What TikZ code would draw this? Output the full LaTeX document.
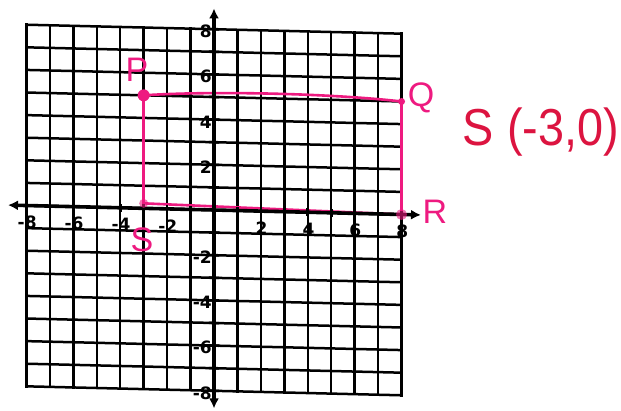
\documentclass[tikz,border=0pt]{standalone}
\usepackage{fontspec}
\setmainfont{DejaVu Sans}
\newfontfamily\handfont{Liberation Sans}
\usetikzlibrary{arrows.meta}
\definecolor{hotpink}{HTML}{EE1A80}
\definecolor{crimson}{HTML}{DC1440}
\begin{document}
\begin{tikzpicture}[x=1pt,y=1pt,
  gridline/.style={line width=2.5pt, black, line cap=rect},
  axisline/.style={line width=3.6pt, black, {Latex[length=10pt,width=10pt]}-{Latex[length=10pt,width=10pt]}},
  tickmark/.style={line width=2.6pt, black},
  numlab/.style={font=\bfseries\fontsize{17}{17}\selectfont, inner sep=0pt},
  pinkline/.style={line width=2.6pt, hotpink, line cap=round},
  pinklab/.style={text=hotpink, font=\handfont\fontsize{34}{34}\selectfont, inner sep=0pt},
  bigtext/.style={text=crimson, font=\handfont\fontsize{52}{52}\selectfont, inner sep=0pt}]
\path[use as bounding box, fill=white] (0,0) rectangle (621,-410);
\begin{scope}[shift={(214,-210)}, x={(23.44pt,-0.56pt)}, y={(0pt,22.6pt)}]
  % grid: vertical lines
  \foreach \gx in {-8,-7,-6,-5,-4,-3,-2,-1,0,1,2,3,4,5,6,7,8} {
    \draw[gridline] (\gx,-8) -- (\gx,8);
  }
  % grid: horizontal lines
  \foreach \gy in {-8,-7,-6,-5,-4,-3,-2,-1,0,1,2,3,4,5,6,7,8} {
    \draw[gridline] (-8,\gy) -- (8,\gy);
  }
  % rectangle PQRS
  \coordinate (P) at (-3,5);
  \coordinate (Q) at (8,5);
  \coordinate (R) at (8,0);
  \coordinate (S) at (-3,0.22);
  \draw[pinkline] (P) .. controls (0,5.28) and (5,5.28) .. (Q);
  \draw[pinkline] (Q) -- (R);
  \draw[pinkline] (P) -- (S);
  \draw[pinkline] (S) -- (R);
  \fill[hotpink] (P) circle (6pt);
  \fill[hotpink] (Q) circle (3.5pt);
  % axes
  \coordinate (xl) at (-8.79,0);
  \coordinate (xr) at (8.83,0);
  \coordinate (yb) at (0,-8.78);
  \coordinate (yt) at (0,8.92);
  \draw[axisline] (xl) -- (xr);
  \draw[axisline] (yb) -- (yt);
  \foreach \t in {-8,-7,-6,-5,-4,-3,-2,-1,1,2,3,4,5,6,7,8} {
    \draw[tickmark] (\t,-0.17) -- (\t,0.17);
    \draw[tickmark] (-0.22,\t) -- (0.22,\t);
  }
  \fill[hotpink, opacity=0.6] (R) circle (5.5pt);
  \fill[hotpink, opacity=0.6] (S) circle (4.5pt);
  % axis numbers
  \foreach \n in {-8,-6,-4,-2,2,4,6,8} {
    \node[numlab] (xn\n) at (\n+0.03,-0.75) {\n};
    \node[numlab, anchor=east] (yn\n) at (-0.09,\n-0.1) {\n};
  }
\end{scope}
% point labels
\node[pinklab] (Plab) at (137,-70) {P};
\node[pinklab] (Slab) at (142,-240) {S};
\node[pinklab] (Qlab) at (421,-98) {Q};
\node[pinklab] (Rlab) at (435,-212) {R};
% answer
\node[bigtext] (ans) at (541,-132) {\scalebox{0.9}[1]{S (-3,0)}};
\end{tikzpicture}
\end{document}
